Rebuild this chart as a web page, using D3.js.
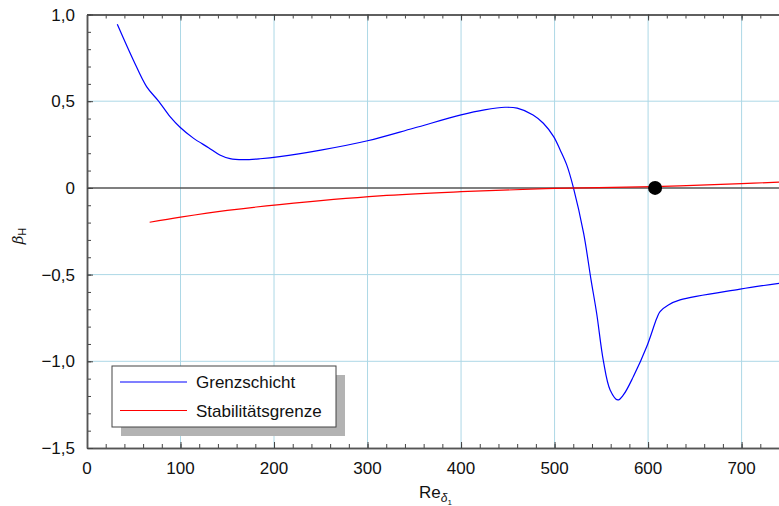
<!DOCTYPE html>
<html><head><meta charset="utf-8">
<script src="https://cdn.jsdelivr.net/npm/d3@7"></script>
<style>
body{margin:0;background:#fff;}
text{font-family:"Liberation Sans",Arial,sans-serif;fill:#111;}
</style></head>
<body>
<svg id="c" width="779" height="506"></svg>
<script>
const blueX=[32.4,49.5,63.7,76.3,88.8,99.5,113.7,130,142,153,167,185,206,250,300,349,400,425,447,460,477,488,499,506,513,520,531,539,545,552.2,559.4,567.6,573.6,584.3,598.6,609.3,612.8,621.7,634.2,698.4,740];
const blueY=[0.944,0.738,0.584,0.502,0.411,0.35,0.287,0.232,0.19,0.169,0.163,0.168,0.18,0.218,0.272,0.344,0.421,0.45,0.465,0.46,0.421,0.373,0.296,0.219,0.133,0.005,-0.26,-0.53,-0.723,-0.998,-1.165,-1.223,-1.194,-1.088,-0.915,-0.752,-0.713,-0.675,-0.646,-0.584,-0.55];
const redX=[67,100,150,206,313,400,500,606,700,740];
const redY=[-0.198,-0.169,-0.13,-0.096,-0.046,-0.022,-0.003,0.0075,0.025,0.033];
const pointX=[607.5], pointY=[0];
const xTicks=[0,100,200,300,400,500,600,700];
const yTicks=[1,0.5,0,-0.5,-1,-1.5];
const yTickLabels=["1,0","0,5","0","\u22120,5","\u22121,0","\u22121,5"];
const seriesNames=["Grenzschicht","Stabilitätsgrenze"];
const colors=["#0000ff","#ff0000"];

const svg=d3.select("#c");
const L=87,T=14.5,R=779,B=448;
const x=d3.scaleLinear().domain([0,740]).range([L,R]);
const y=d3.scaleLinear().domain([-1.5,1]).range([B,T]);

// grid
const g=svg.append("g");
g.selectAll(".vg").data(xTicks.filter(d=>d>0)).enter().append("line")
 .attr("x1",d=>x(d)).attr("x2",d=>x(d)).attr("y1",T).attr("y2",B)
 .attr("stroke","#add8e6").attr("stroke-width",1);
g.selectAll(".hg").data([0.5,-0.5,-1]).enter().append("line")
 .attr("x1",L).attr("x2",R).attr("y1",d=>y(d)).attr("y2",d=>y(d))
 .attr("stroke","#add8e6").attr("stroke-width",1);
// zero line
svg.append("line").attr("x1",L).attr("x2",R).attr("y1",y(0)).attr("y2",y(0))
 .attr("stroke","#555").attr("stroke-width",1.5);

// axes
const axStyle=sel=>{sel.select(".domain").attr("stroke","#555").attr("stroke-width",1.5);
 sel.selectAll(".tick line").attr("stroke","#444").attr("stroke-width",1);};
const minorX=d3.range(0,741,20), minorY=d3.range(-15,11).map(d=>d/10);
svg.append("g").attr("transform",`translate(0,${B})`)
 .call(d3.axisTop(x).tickValues(minorX).tickSize(4).tickFormat("").tickSizeOuter(0)).call(axStyle);
svg.append("g").attr("transform",`translate(0,${B})`)
 .call(d3.axisTop(x).tickValues(xTicks).tickSize(6).tickFormat("").tickSizeOuter(0)).call(axStyle);
svg.append("g").attr("transform",`translate(0,${T})`)
 .call(d3.axisBottom(x).tickValues(minorX).tickSize(4).tickFormat("").tickSizeOuter(0)).call(axStyle);
svg.append("g").attr("transform",`translate(0,${T})`)
 .call(d3.axisBottom(x).tickValues(xTicks).tickSize(6).tickFormat("").tickSizeOuter(0)).call(axStyle);
svg.append("g").attr("transform",`translate(${L},0)`)
 .call(d3.axisRight(y).tickValues(minorY).tickSize(4).tickFormat("").tickSizeOuter(0)).call(axStyle);
svg.append("g").attr("transform",`translate(${L},0)`)
 .call(d3.axisRight(y).tickValues(yTicks).tickSize(6).tickFormat("").tickSizeOuter(0)).call(axStyle);

// tick labels
svg.selectAll(".xl").data(xTicks).enter().append("text")
 .attr("x",d=>x(d)).attr("y",474).attr("text-anchor","middle").attr("font-size",17).text(d=>d);
svg.selectAll(".yl").data(yTicks).enter().append("text")
 .attr("x",75).attr("y",d=>y(d)+6).attr("text-anchor","end").attr("font-size",17)
 .text((d,i)=>yTickLabels[i]);

// axis titles
const yt=svg.append("text").attr("transform","translate(23,236) rotate(-90)").attr("text-anchor","middle").attr("font-size",17);
yt.append("tspan").attr("font-style","italic").attr("font-family","DejaVu Serif, serif").attr("font-size",15).text("β");
yt.append("tspan").attr("font-size",11).attr("dy",3).text("H");
const xt=svg.append("text").attr("x",419).attr("y",498).attr("font-size",17);
xt.append("tspan").text("Re");
xt.append("tspan").attr("font-size",12).attr("font-style","italic").attr("dy",4).text("δ");
xt.append("tspan").attr("font-size",8).attr("dy",3).text("1");

// lines
const line=d3.line().x(d=>x(d[0])).y(d=>y(d[1])).curve(d3.curveCatmullRom.alpha(0.5));
svg.append("path").datum(blueX.map((v,i)=>[v,blueY[i]])).attr("d",line)
 .attr("fill","none").attr("stroke",colors[0]).attr("stroke-width",1.2);
svg.append("path").datum(redX.map((v,i)=>[v,redY[i]])).attr("d",line)
 .attr("fill","none").attr("stroke",colors[1]).attr("stroke-width",1.2);
svg.selectAll(".pt").data(pointX).enter().append("circle")
 .attr("cx",d=>x(d)).attr("cy",(d,i)=>y(pointY[i])).attr("r",7).attr("fill","#000");

// legend
svg.append("rect").attr("x",121).attr("y",375).attr("width",224).attr("height",61).attr("fill","#b3b3b3");
svg.append("rect").attr("x",112).attr("y",366).attr("width",224).attr("height",61).attr("fill","#fff").attr("stroke","#444").attr("stroke-width",1);
seriesNames.forEach((n,i)=>{
 const yy=382+i*28.5;
 svg.append("line").attr("x1",120).attr("x2",187).attr("y1",yy).attr("y2",yy).attr("stroke",colors[i]).attr("stroke-width",1.2);
 svg.append("text").attr("x",196).attr("y",yy+6).attr("font-size",17).text(n);
});
</script>
</body></html>
